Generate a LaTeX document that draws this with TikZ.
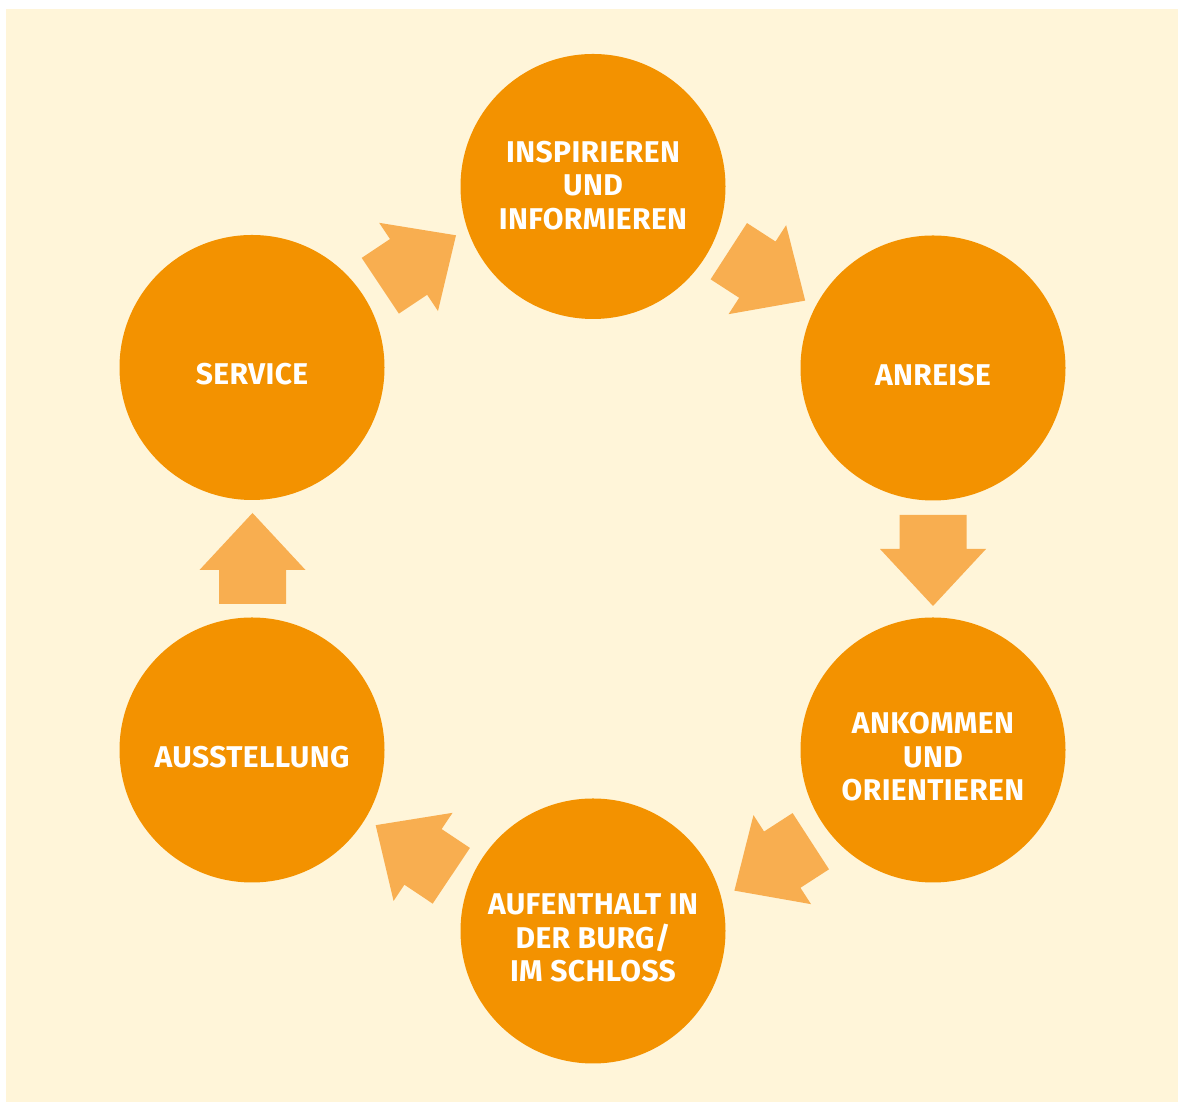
\documentclass[tikz,border=0pt]{standalone}
\usepackage{fontspec}
\setmainfont{Fira Sans}
\definecolor{bgc}{HTML}{FFF5D9}
\definecolor{circ}{HTML}{F39200}
\definecolor{arr}{HTML}{F8AE50}
\newcommand\blockarr[3]{\fill[blk,shift={(#1,#2)},rotate=#3] (0,-33.5) -- (34,-33.5) -- (34,-53) -- (91,0) -- (34,53) -- (34,33.5) -- (0,33.5) -- cycle;}
\begin{document}
\begin{tikzpicture}[x=1pt,y=1pt,
  stage/.style={circle, fill=circ, minimum size=265pt, inner sep=0pt},
  lbl/.style={text=white, font=\fontsize{30}{33.5}\selectfont\bfseries\addfontfeatures{LetterSpace=1.3}, align=center, inner sep=0pt},
  blk/.style={fill=arr}]
\useasboundingbox (0,0) rectangle (1179,1102);
\fill[bgc] (6,0) rectangle (1178,1093);
% circles
\node[stage] (insp) at (593,915.5) {};
\node[stage] (anr)  at (933,734) {};
\node[stage] (ank)  at (933,352) {};
\node[stage] (auf)  at (593,171) {};
\node[stage] (aus)  at (252,352) {};
\node[stage] (serv) at (252,734.5) {};
% labels
\node[lbl] (t1) at ([yshift=1pt]insp.center) {INSPIRIEREN\\UND\\INFORMIEREN};
\node[lbl] (t2) at ([yshift=-7pt]anr.center) {ANREISE};
\node[lbl] (t3) at ([yshift=-7pt]ank.center) {ANKOMMEN\\UND\\ORIENTIEREN};
\node[lbl] (t4) at ([yshift=-7pt]auf.center) {AUFENTHALT IN\\DER BURG/\\IM SCHLOSS};
\node[lbl] (t5) at ([yshift=-7pt]aus.center) {AUSSTELLUNG};
\node[lbl] (t6) at ([yshift=-7pt]serv.center) {SERVICE};
% block arrows
\blockarr{380.3}{816.2}{33.7}
\blockarr{728.8}{850.8}{-32.9}
\blockarr{933}{587}{-90}
\blockarr{810.8}{260.8}{212.9}
\blockarr{451.3}{226.2}{146.2}
\blockarr{252.5}{498}{90}
\end{tikzpicture}
\end{document}
